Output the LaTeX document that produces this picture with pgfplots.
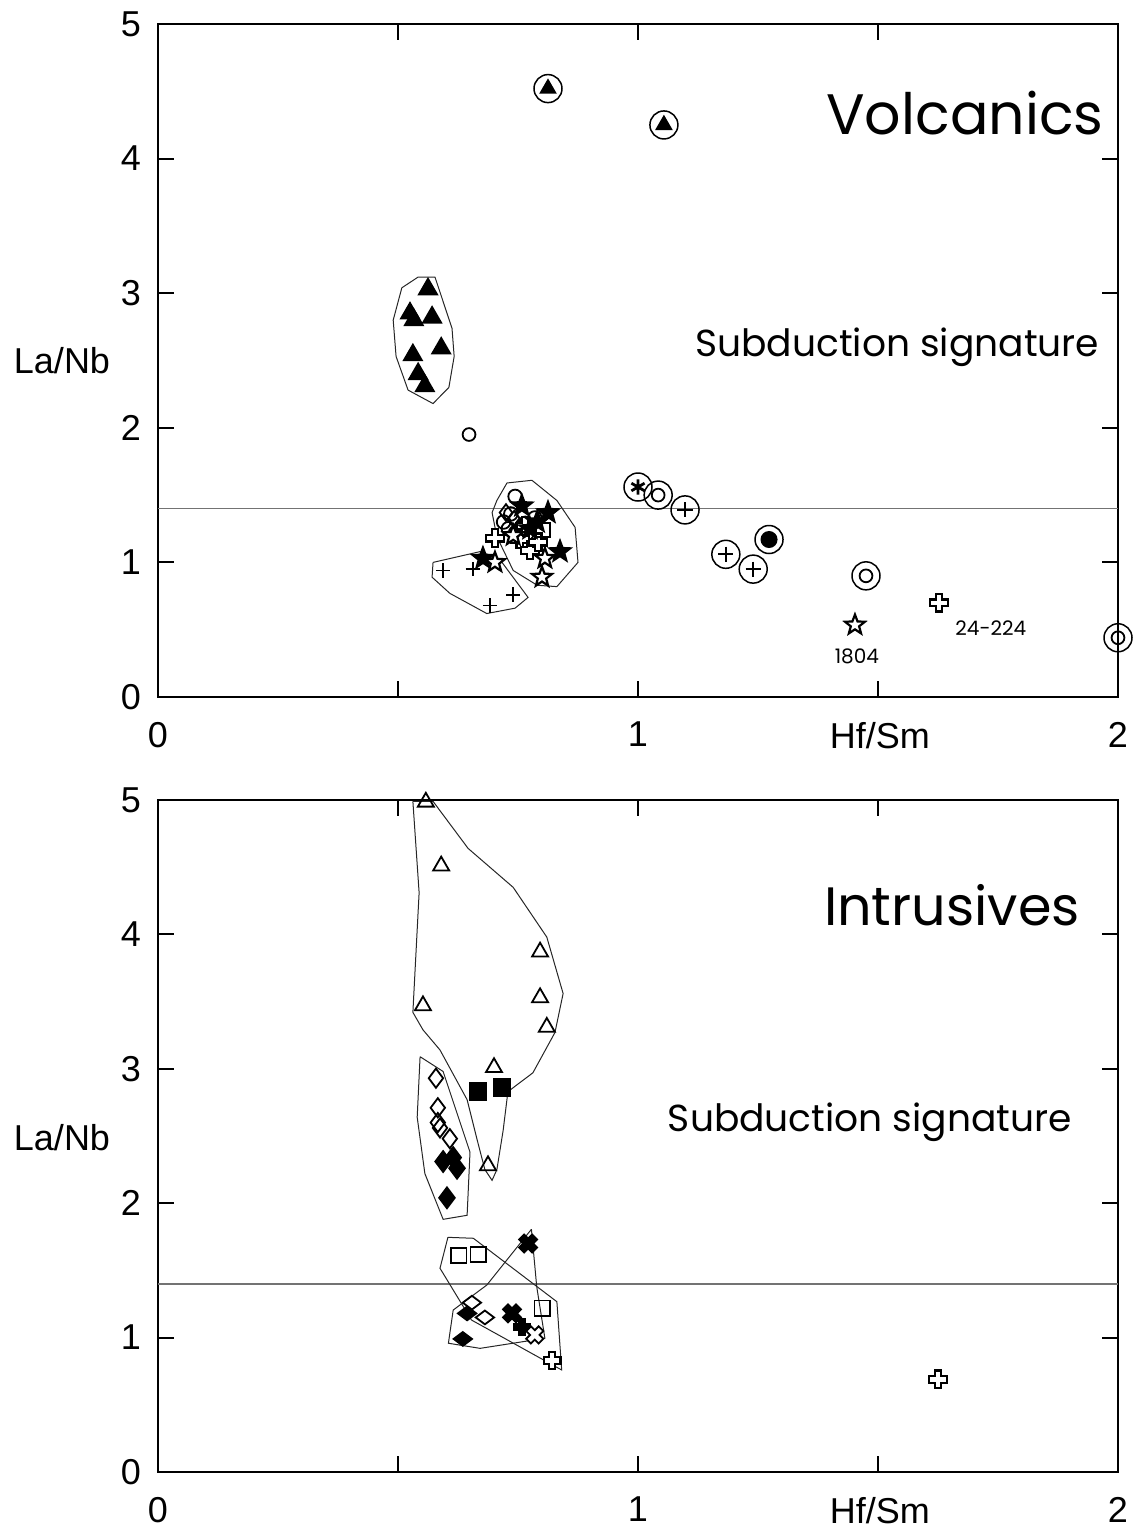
\documentclass[border=0pt]{standalone}
\usepackage{pgfplots}
\pgfplotsset{compat=1.18}
\usepackage{fontspec}
\setmainfont{Liberation Sans}
\newfontfamily\gothic{Poppins}

\pgfdeclareplotmark{star5}{%
 \pgfpathmoveto{\pgfpointpolar{90}{\pgfplotmarksize}}%
 \pgfpathlineto{\pgfpointpolar{126}{0.42\pgfplotmarksize}}%
 \pgfpathlineto{\pgfpointpolar{162}{\pgfplotmarksize}}%
 \pgfpathlineto{\pgfpointpolar{198}{0.42\pgfplotmarksize}}%
 \pgfpathlineto{\pgfpointpolar{234}{\pgfplotmarksize}}%
 \pgfpathlineto{\pgfpointpolar{270}{0.42\pgfplotmarksize}}%
 \pgfpathlineto{\pgfpointpolar{306}{\pgfplotmarksize}}%
 \pgfpathlineto{\pgfpointpolar{342}{0.42\pgfplotmarksize}}%
 \pgfpathlineto{\pgfpointpolar{18}{\pgfplotmarksize}}%
 \pgfpathlineto{\pgfpointpolar{54}{0.42\pgfplotmarksize}}%
 \pgfpathclose
 \pgfusepathqfillstroke
}
\pgfdeclareplotmark{gcross}{%
 \pgfpathmoveto{\pgfpoint{0.38\pgfplotmarksize}{\pgfplotmarksize}}%
 \pgfpathlineto{\pgfpoint{0.38\pgfplotmarksize}{0.38\pgfplotmarksize}}%
 \pgfpathlineto{\pgfpoint{\pgfplotmarksize}{0.38\pgfplotmarksize}}%
 \pgfpathlineto{\pgfpoint{\pgfplotmarksize}{-0.38\pgfplotmarksize}}%
 \pgfpathlineto{\pgfpoint{0.38\pgfplotmarksize}{-0.38\pgfplotmarksize}}%
 \pgfpathlineto{\pgfpoint{0.38\pgfplotmarksize}{-\pgfplotmarksize}}%
 \pgfpathlineto{\pgfpoint{-0.38\pgfplotmarksize}{-\pgfplotmarksize}}%
 \pgfpathlineto{\pgfpoint{-0.38\pgfplotmarksize}{-0.38\pgfplotmarksize}}%
 \pgfpathlineto{\pgfpoint{-\pgfplotmarksize}{-0.38\pgfplotmarksize}}%
 \pgfpathlineto{\pgfpoint{-\pgfplotmarksize}{0.38\pgfplotmarksize}}%
 \pgfpathlineto{\pgfpoint{-0.38\pgfplotmarksize}{0.38\pgfplotmarksize}}%
 \pgfpathlineto{\pgfpoint{-0.38\pgfplotmarksize}{\pgfplotmarksize}}%
 \pgfpathclose
 \pgfusepathqfillstroke
}

\pgfplotsset{
 geo/.style={
  scale only axis, width=480pt,
  xmin=0,xmax=2,ymin=0,ymax=5,
  xtick={0,0.5,1,1.5,2}, xticklabels={0,,1,,2},
  ytick={0,1,2,3,4,5},
  tick align=inside, major tick length=8pt,
  every tick/.style={black, line width=1pt},
  axis line style={line width=0.75pt},
  tick label style={font=\fontsize{18}{20}\selectfont},
  /pgf/number format/assume math mode=true,
  xticklabel style={yshift=-9pt},
  yticklabel style={xshift=-5pt},
  clip=false,
 },
 poly/.style={black!85, line width=0.5pt, mark=none},
 hline/.style={black!55, line width=0.8pt, mark=none},
 mk/.style={only marks, black, line width=0.9pt},
}

\begin{document}
\begin{tikzpicture}
\useasboundingbox (0,0) rectangle (568pt,765.5pt);

% ---------------- Volcanics ----------------
\begin{axis}[geo, at={(79pt,417pt)}, anchor=south west, height=336.5pt]
\addplot[hline] coordinates {(0,1.4) (2,1.4)};
% polygons
\addplot[poly] coordinates {(0.542,3.12) (0.577,3.12) (0.6125,2.74) (0.617,2.53) (0.606,2.30) (0.573,2.18) (0.521,2.28) (0.496,2.53) (0.490,2.80) (0.508,3.04) (0.542,3.12)};
\addplot[poly] coordinates {(0.727,1.59) (0.779,1.61) (0.831,1.46) (0.869,1.26) (0.875,1.0) (0.831,0.82) (0.790,0.83) (0.740,0.94) (0.706,1.19) (0.696,1.37) (0.706,1.46) (0.727,1.59)};
\addplot[poly] coordinates {(0.573,1.0) (0.671,1.08) (0.7125,1.02) (0.771,0.74) (0.744,0.66) (0.685,0.62) (0.608,0.77) (0.571,0.89) (0.573,1.0)};
% filled triangles
\addplot[mk, mark=triangle*, mark size=5.2pt, mark options={fill=black}] coordinates {(0.5625,3.03) (0.525,2.85) (0.533,2.80) (0.571,2.82) (0.590,2.59) (0.531,2.54) (0.542,2.40) (0.556,2.31)};
% small open circle
\addplot[mk, mark=o, mark size=3.2pt] coordinates {(0.648,1.95)};
% plus signs
\addplot[mk, mark=+, mark size=3.6pt] coordinates {(0.594,0.94) (0.656,0.95) (0.692,0.68) (0.740,0.76)};
% cluster: open circles
\addplot[mk, mark=o, mark size=3.4pt, mark options={fill=white}] coordinates {(0.744,1.49) (0.72,1.30) (0.735,1.36) (0.765,1.29) (0.745,1.22) (0.785,1.33) (0.73,1.25)};
% open diamonds
\addplot[mk, mark=diamond, mark size=4.2pt, mark options={fill=white}] coordinates {(0.725,1.37) (0.752,1.26) (0.772,1.21) (0.742,1.32)};
% open clovers
\addplot[mk, mark=gcross, mark size=4.4pt, line width=1.1pt, mark options={fill=white, rounded corners=1pt}] coordinates {(0.702,1.18) (0.754,1.17) (0.775,1.09) (0.792,1.15) (0.765,1.27) (1.627,0.70)};
% open square
\addplot[mk, mark=square, mark size=3.6pt, mark options={fill=white}] coordinates {(0.802,1.24)};
% filled stars
\addplot[mk, mark=star5, mark size=5.6pt, mark options={fill=black}] coordinates {(0.677,1.03) (0.8125,1.37) (0.8375,1.08) (0.758,1.42) (0.79,1.30) (0.775,1.25)};
% open stars
\addplot[mk, mark=star5, mark size=5.2pt, line width=1.1pt, mark options={fill=white}] coordinates {(0.702,1.0) (0.806,1.03) (0.80,0.89) (0.74,1.20) (1.452,0.535)};
% rings
\addplot[mk, mark=o, mark size=7pt, mark options={fill=white, line width=0.75pt}] coordinates {(0.8125,4.52) (1.054,4.25) (1.0,1.56) (1.042,1.50) (1.098,1.39) (1.183,1.06) (1.24,0.95) (1.273,1.17) (1.475,0.90) (2.0,0.44)};
\addplot[mk, mark=triangle*, mark size=4.2pt, mark options={fill=black}] coordinates {(0.8125,4.52) (1.054,4.25)};
\addplot[mk, mark=asterisk, mark size=3.8pt, line width=1.4pt] coordinates {(1.0,1.56)};
\addplot[mk, mark=o, mark size=3.2pt] coordinates {(1.042,1.50) (1.475,0.90) (2.0,0.44)};
\addplot[mk, mark=+, mark size=3.8pt] coordinates {(1.098,1.39) (1.183,1.06) (1.24,0.95)};
\addplot[mk, mark=*, mark size=3.8pt] coordinates {(1.273,1.17)};
% texts
\node[font=\gothic\fontsize{28.5}{32}\selectfont] at (axis cs:1.681,4.34) {Volcanics};
\node[font=\gothic\fontsize{18.8}{22}\selectfont] at (axis cs:1.540,2.60) {Subduction signature};
\node[font=\gothic\fontsize{10}{12}\selectfont] at (axis cs:1.456,0.30) {1804};
\node[font=\gothic\fontsize{10}{12}\selectfont] at (axis cs:1.735,0.51) {24-224};
\node[font=\fontsize{18}{20}\selectfont] at (axis cs:-0.2,2.5) {La/Nb};
\node[font=\fontsize{18}{20}\selectfont] at (axis cs:1.504,-0.29) {Hf/Sm};
\end{axis}

% ---------------- Intrusives ----------------
\begin{axis}[geo, at={(79pt,29.5pt)}, anchor=south west, height=336pt]
\addplot[hline] coordinates {(0,1.4) (2,1.4)};
\addplot[poly] coordinates {(0.531,4.99) (0.573,4.99) (0.646,4.64) (0.740,4.35) (0.810,3.98) (0.844,3.56) (0.827,3.27) (0.781,2.97) (0.729,2.83) (0.719,2.54) (0.706,2.25) (0.696,2.17) (0.681,2.25) (0.665,2.47) (0.644,2.77) (0.5875,3.14) (0.552,3.29) (0.531,3.42) (0.544,4.31) (0.531,4.99)};
\addplot[poly] coordinates {(0.546,3.09) (0.594,2.98) (0.65,2.38) (0.644,1.91) (0.594,1.88) (0.556,2.22) (0.540,2.64) (0.546,3.09)};
\addplot[poly] coordinates {(0.604,1.746) (0.657,1.739) (0.831,1.267) (0.841,0.759) (0.653,1.131) (0.5875,1.516) (0.604,1.746)};
\addplot[poly] coordinates {(0.778,1.806) (0.789,1.379) (0.806,0.995) (0.671,0.920) (0.605,0.958) (0.615,1.205) (0.685,1.391) (0.778,1.806)};
% open triangles
\addplot[mk, mark=triangle, mark size=4.6pt, mark options={fill=white}] coordinates {(0.558,4.985) (0.590,4.51) (0.796,3.87) (0.796,3.53) (0.810,3.31) (0.552,3.47) (0.70,3.01) (0.6875,2.28)};
% filled squares
\addplot[mk, mark=square*, mark size=4.2pt] coordinates {(0.667,2.83) (0.717,2.86)};
% open diamonds
\addplot[mk, mark=diamond, mark size=4.8pt, mark options={fill=white}] coordinates {(0.579,2.93) (0.583,2.71) (0.583,2.60) (0.5875,2.56) (0.608,2.48)};
% filled diamonds
\addplot[mk, mark=diamond*, mark size=5.2pt] coordinates {(0.594,2.31) (0.615,2.34) (0.623,2.26) (0.602,2.04)};
% lower group
\addplot[mk, mark=square, mark size=3.8pt, mark options={fill=white}] coordinates {(0.627,1.61) (0.667,1.62) (0.80,1.22)};
\addplot[mk, mark=diamond, mark size=4.6pt, mark options={fill=white, rotate=90}] coordinates {(0.654,1.26) (0.681,1.15)};
\addplot[mk, mark=diamond*, mark size=4.6pt, mark options={rotate=90}] coordinates {(0.644,1.18) (0.635,0.99)};
\addplot[mk, mark=gcross, mark size=4.6pt, mark options={fill=black, rotate=45}] coordinates {(0.771,1.70) (0.7375,1.18)};
\addplot[mk, mark=gcross, mark size=4.2pt, mark options={fill=black}] coordinates {(0.758,1.08)};
\addplot[mk, mark=gcross, mark size=4.4pt, mark options={fill=white, rotate=45}] coordinates {(0.785,1.02)};
\addplot[mk, mark=gcross, mark size=4.2pt, line width=1.1pt, mark options={fill=white}] coordinates {(0.821,0.83)};
\addplot[mk, mark=gcross, mark size=4.4pt, line width=1.1pt, mark options={fill=white, rounded corners=1pt}] coordinates {(1.625,0.69)};
% texts
\node[font=\gothic\fontsize{27}{30}\selectfont] at (axis cs:1.654,4.22) {Intrusives};
\node[font=\gothic\fontsize{18.8}{22}\selectfont] at (axis cs:1.483,2.60) {Subduction signature};
\node[font=\fontsize{18}{20}\selectfont] at (axis cs:-0.2,2.49) {La/Nb};
\node[font=\fontsize{18}{20}\selectfont] at (axis cs:1.504,-0.29) {Hf/Sm};
\end{axis}
\end{tikzpicture}
\end{document}
